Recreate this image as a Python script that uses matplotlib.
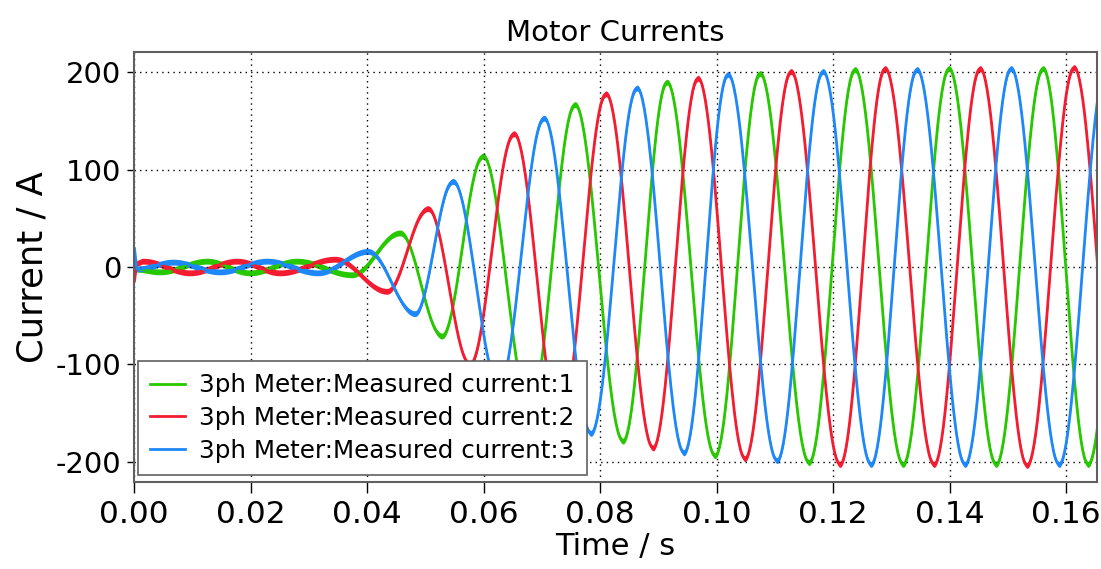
import numpy as np
import matplotlib
matplotlib.use("Agg")
import matplotlib.pyplot as plt

# peak / trough samples of each phase current (time in s, current in A)
t_i1 = [0.0, 0.00446, 0.01253, 0.01991, 0.02798, 0.03742, 0.04567, 0.05288,
        0.05991, 0.06798, 0.07571, 0.08395, 0.09150, 0.09974, 0.10747, 0.11588,
        0.12378, 0.13202, 0.13991, 0.14798, 0.15605, 0.16378, 0.17185]
i1 = [-2, -5, 6, -6, 6, -8, 35, -71,
      114, -145, 167, -179, 190, -194, 199, -201,
      203, -203, 204, -203, 204, -203, 204]

t_i2 = [0.0, 0.00052, 0.00155, 0.00961, 0.01768, 0.02506, 0.03451, 0.04343,
        0.05047, 0.05768, 0.06524, 0.07313, 0.08103, 0.08910, 0.09682, 0.10489,
        0.11279, 0.12120, 0.12893, 0.13734, 0.14524, 0.15330, 0.16137, 0.16944]
i2 = [-15, 4, 6, -6, 6, -6, 8, -25,
      60, -100, 137, -162, 178, -186, 194, -197,
      201, -203, 204, -203, 204, -204, 205, -203]

t_i3 = [0.0, 0.00052, 0.00670, 0.01476, 0.02283, 0.03159, 0.04017, 0.04824,
        0.05476, 0.06266, 0.07039, 0.07845, 0.08635, 0.09442, 0.10197, 0.11039,
        0.11828, 0.12652, 0.13442, 0.14266, 0.15056, 0.15880, 0.16687]
i3 = [20, -2, 5, -5, 6, -6, 16, -48,
      88, -122, 153, -171, 184, -191, 198, -199,
      201, -203, 203, -203, 204, -203, 204]

labels = ["3ph Meter:Measured current:1",
          "3ph Meter:Measured current:2",
          "3ph Meter:Measured current:3"]
colors = ["#27c800", "#f41c30", "#1e88f8"]


def trace(t_pts, v_pts, n=60):
    # half-cosine segments between successive extrema
    ts, vs = [], []
    for k in range(len(t_pts) - 1):
        u = np.linspace(0, 1, n, endpoint=False)
        ts.append(t_pts[k] + (t_pts[k + 1] - t_pts[k]) * u)
        vs.append(v_pts[k] + (v_pts[k + 1] - v_pts[k]) * (1 - np.cos(np.pi * u)) / 2)
    ts.append([t_pts[-1]])
    vs.append([v_pts[-1]])
    return np.concatenate(ts), np.concatenate(vs)


plt.rcParams["font.family"] = ["DejaVu Sans"]
plt.rcParams["axes.unicode_minus"] = False

fig = plt.figure(figsize=(11.01, 5.69), dpi=100)
ax = fig.add_axes([0.1217, 0.1529, 0.8747, 0.7557])

ripple = 3.0
for (tp, vp), c, lab in zip([(t_i1, i1), (t_i2, i2), (t_i3, i3)], colors, labels):
    t, v = trace(tp, vp)
    ax.fill_between(t, v - ripple, v + ripple, color=c, lw=0)
    ax.plot(t, v, color=c, lw=2.0, label=lab)

ax.set_xlim(0, 0.1653)
ax.set_ylim(-221, 221)
ax.set_xticks(np.arange(0, 0.161, 0.02))
ax.set_yticks([-200, -100, 0, 100, 200])
ax.xaxis.set_major_formatter(matplotlib.ticker.FormatStrFormatter("%.2f"))
ax.grid(True, color="black", lw=1.0, linestyle=(0, (1, 3)))

for s in ax.spines.values():
    s.set_color("#606060")
    s.set_linewidth(1.5)
ax.tick_params(axis="x", direction="out", length=8, width=1, labelsize=22.5, pad=5)
ax.tick_params(axis="y", direction="out", length=5, width=1, labelsize=21, pad=4)

ax.set_title("Motor Currents", fontsize=21, pad=8)
ax.set_xlabel("Time / s", fontsize=22, labelpad=2)
ax.set_ylabel("Current / A", fontsize=25.5)
ax.yaxis.set_label_coords(-0.088, 0.5)

leg = ax.legend(loc="lower left", bbox_to_anchor=(0.004, 0.016), fontsize=17.7,
                frameon=True, fancybox=False, framealpha=1, edgecolor="#606060",
                handlelength=1.4, handletextpad=0.6, labelspacing=0.36,
                borderpad=0.5, borderaxespad=0)
leg.get_frame().set_linewidth(1.2)

fig.savefig("out.png", dpi=100)
